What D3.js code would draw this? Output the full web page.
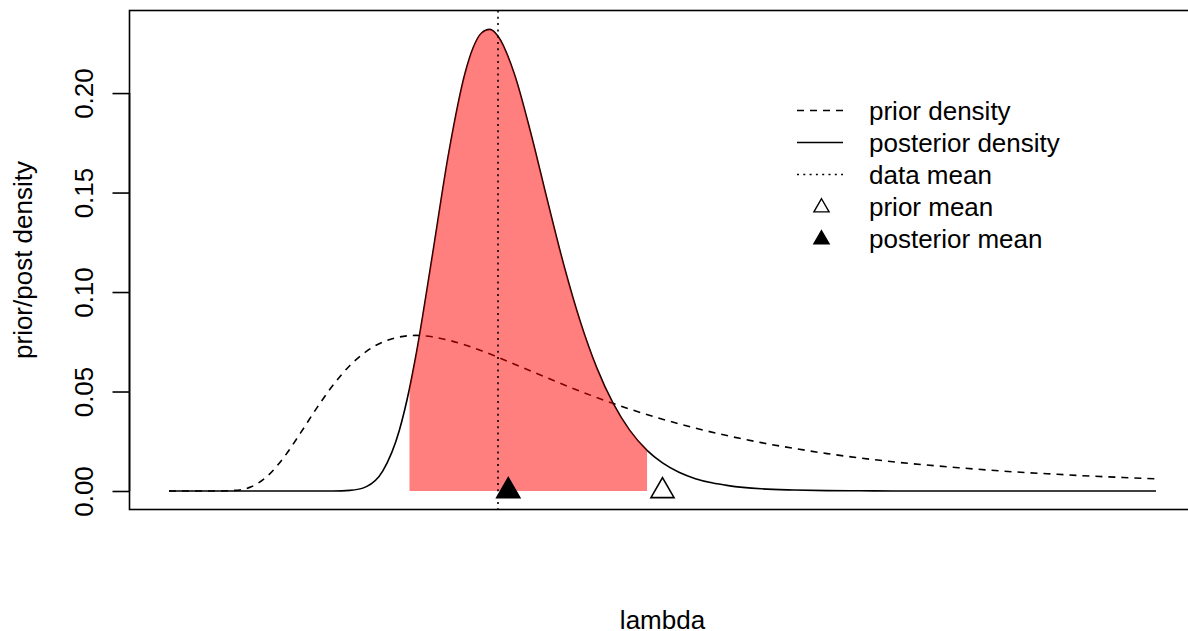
<!DOCTYPE html>
<html>
<head>
<meta charset="utf-8">
<script src="https://d3js.org/d3.v7.min.js"></script>
<style>
  html, body { margin: 0; padding: 0; background: #fff; overflow: hidden; }
  svg { display: block; font-family: "Liberation Sans", Arial, Helvetica, sans-serif; }
</style>
</head>
<body>
<svg id="chart" width="1188" height="631"></svg>
<script>
// prior density (dashed)
const priorLambda = [0, 0.5, 1, 1.5, 2, 2.5, 3, 3.5, 4, 4.5, 5, 5.5, 6, 6.5, 7, 7.5, 8, 8.5, 9, 9.5, 10,
  11, 12, 13, 14, 15, 16, 17, 18, 19, 20, 21, 22, 23, 24, 25, 26, 27, 28, 29, 30];
const priorDensity = [0, 0, 0, 0, 0.0003, 0.0021, 0.0076, 0.0171, 0.0292, 0.0419, 0.0535, 0.0631, 0.0702, 0.0749, 0.0774, 0.0782, 0.0775, 0.0758, 0.0734, 0.0705, 0.0672,
  0.0603, 0.0534, 0.0470, 0.0412, 0.0361, 0.0316, 0.0277, 0.0243, 0.0214, 0.0188, 0.0166, 0.0147, 0.0131, 0.0117, 0.0104, 0.0093, 0.0084, 0.0075, 0.0068, 0.0061];

// posterior density (solid)
const postLambda = [0, 1, 2, 3, 4, 5, 5.5, 6, 6.5, 7, 7.31, 7.5, 8, 8.5, 9, 9.25, 9.5, 9.75, 10, 10.5, 11, 11.5, 12, 12.5,
  13, 13.5, 14, 14.53, 15, 15.5, 16, 16.5, 17, 18, 19, 20, 21, 22, 24, 26, 28, 30];
const postDensity = [0, 0, 0, 0, 0, 0.00002, 0.0003, 0.0022, 0.0101, 0.0304, 0.0515, 0.0676, 0.1178, 0.1697, 0.2101, 0.2230, 0.2302, 0.2320, 0.2286, 0.2095, 0.1797, 0.1461, 0.1136, 0.0852,
  0.0620, 0.0440, 0.0306, 0.0204, 0.0141, 0.0094, 0.0062, 0.0041, 0.0027, 0.0011, 0.0005, 0.0002, 0.0001, 0, 0, 0, 0, 0];

// 95% interval, means
const ciBounds = [7.31, 14.53];
const dataMean = 10;
const priorMean = 15;
const postMean = 10.3125;

const yTicks = [0, 0.05, 0.10, 0.15, 0.20];
const legendLabels = ["prior density", "posterior density", "data mean", "prior mean", "posterior mean"];

const svg = d3.select("#chart");
const pl = 129.5, pr = 1195.5, pt = 10.5, pb = 509.5;
const fs = 26;

const x = d3.scaleLinear().domain([-1.2, 31.2]).range([pl, pr]);
const y = d3.scaleLinear().domain([-0.0093, 0.2415]).range([pb, pt]);

const prior = priorLambda.map((l, i) => ({ l, d: priorDensity[i] }));
const post = postLambda.map((l, i) => ({ l, d: postDensity[i] }));

const line = d3.line().x(d => x(d.l)).y(d => y(d.d)).curve(d3.curveMonotoneX);

// posterior curve
svg.append("path")
  .datum(post)
  .attr("d", line)
  .attr("fill", "none")
  .attr("stroke", "#000")
  .attr("stroke-width", 1.6);

// prior curve
svg.append("path")
  .datum(prior)
  .attr("d", line)
  .attr("fill", "none")
  .attr("stroke", "#000")
  .attr("stroke-width", 1.6)
  .attr("stroke-dasharray", "7,6");

// shaded interval
const shade = post.filter(p => p.l >= ciBounds[0] && p.l <= ciBounds[1]);
svg.append("path")
  .datum(shade)
  .attr("d", d3.area().x(d => x(d.l)).y0(y(0)).y1(d => y(d.d)).curve(d3.curveMonotoneX))
  .attr("fill", "rgba(255,0,0,0.5)")
  .attr("stroke", "none");

// data mean line
svg.append("line")
  .attr("x1", x(dataMean)).attr("x2", x(dataMean))
  .attr("y1", pt).attr("y2", pb)
  .attr("stroke", "#000")
  .attr("stroke-width", 1.6)
  .attr("stroke-dasharray", "2,4.3");

// mean markers
const tri = d3.symbol(d3.symbolTriangle, 231);
svg.append("path")
  .attr("d", tri())
  .attr("transform", `translate(${x(priorMean)},${y(0)})`)
  .attr("fill", "#fff").attr("stroke", "#000").attr("stroke-width", 1.6);
svg.append("path")
  .attr("d", tri())
  .attr("transform", `translate(${x(postMean)},${y(0)})`)
  .attr("fill", "#000").attr("stroke", "#000").attr("stroke-width", 1.6);

// box
svg.append("rect")
  .attr("x", pl).attr("y", pt)
  .attr("width", pr - pl).attr("height", pb - pt)
  .attr("fill", "none").attr("stroke", "#000").attr("stroke-width", 1.6);

// y axis
const yAxis = svg.append("g")
  .attr("transform", `translate(${pl},0)`)
  .call(d3.axisLeft(y).tickValues(yTicks).tickFormat(d3.format(".2f")).tickSize(17).tickPadding(0));
yAxis.select(".domain").attr("stroke-width", 1.6).attr("d", `M0,${y(0)}V${y(0.2)}`);
yAxis.selectAll(".tick line").attr("stroke-width", 1.6);
yAxis.selectAll(".tick text")
  .attr("font-size", fs)
  .attr("fill", "#000")
  .attr("x", null).attr("dy", null)
  .attr("text-anchor", "middle")
  .attr("transform", "translate(-46,0) rotate(-90)")
  .attr("dominant-baseline", "central")
  .style("font-family", "Liberation Sans, Arial, sans-serif");

// axis titles
svg.append("text")
  .attr("x", (pl + pr) / 2).attr("y", 620)
  .attr("text-anchor", "middle").attr("dominant-baseline", "central")
  .attr("font-size", fs).text("lambda");
svg.append("text")
  .attr("transform", `translate(23,${(pt + pb) / 2}) rotate(-90)`)
  .attr("text-anchor", "middle").attr("dominant-baseline", "central")
  .attr("font-size", fs).text("prior/post density");

// legend
const lg = svg.append("g");
const rowY = i => 110.5 + i * 32;
const dashes = ["7,6", null, "2,4.3"];
dashes.forEach((da, i) => {
  lg.append("line")
    .attr("x1", 797).attr("x2", 843)
    .attr("y1", rowY(i)).attr("y2", rowY(i))
    .attr("stroke", "#000").attr("stroke-width", 1.6)
    .attr("stroke-dasharray", da);
});
const smallTri = d3.symbol(d3.symbolTriangle, 100);
lg.append("path").attr("d", smallTri())
  .attr("transform", `translate(821.5,${rowY(3) + 1})`)
  .attr("fill", "#fff").attr("stroke", "#000").attr("stroke-width", 1.4);
lg.append("path").attr("d", smallTri())
  .attr("transform", `translate(821.5,${rowY(4) + 1})`)
  .attr("fill", "#000").attr("stroke", "#000").attr("stroke-width", 1.4);
legendLabels.forEach((t, i) => {
  lg.append("text")
    .attr("x", 869).attr("y", rowY(i))
    .attr("dominant-baseline", "central")
    .attr("font-size", fs).text(t);
});
</script>
</body>
</html>
